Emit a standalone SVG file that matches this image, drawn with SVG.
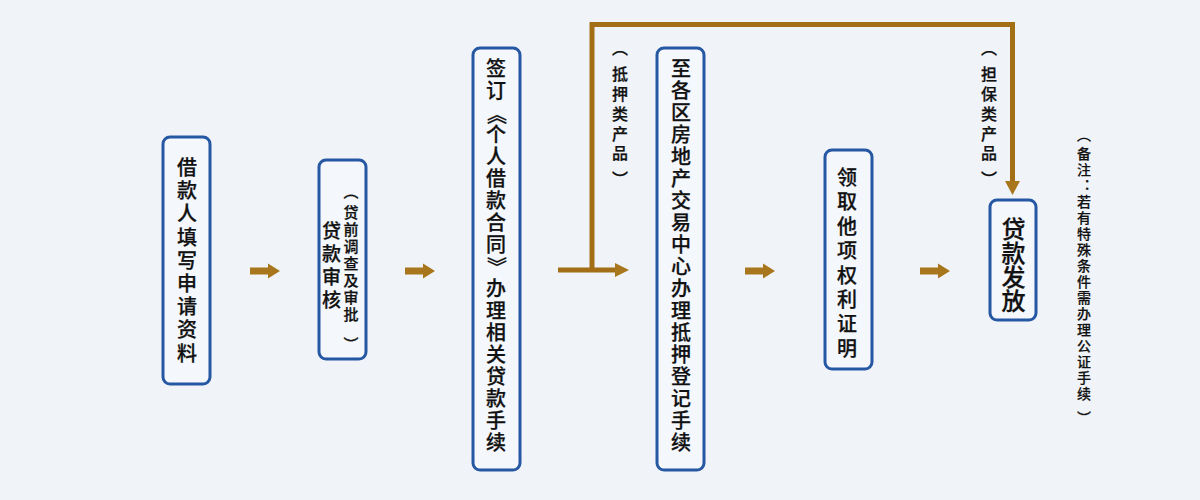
<svg xmlns="http://www.w3.org/2000/svg" width="1200" height="500" viewBox="0 0 1200 500">
  <style>
    .box { fill: #f4f7fb; stroke: #2657a3; stroke-width: 3; }
    .vt { font-family: "Noto Sans CJK SC", "Noto Sans", sans-serif; fill: #111; stroke: #111; stroke-width: 0.25; text-anchor: middle; dominant-baseline: central; font-weight: 500; }
    .main { font-size: 20px; }
    .small { font-size: 15px; }
    .lbl { font-size: 16px; }
    .note { font-size: 14px; stroke-width: 0.2; }
    .conn { fill: none; stroke: #a26e16; stroke-width: 5; }
    .arr { fill: #a8761c; }
  </style>
  <defs>
    <path id="fatArrow" d="M0,-3.5 L18,-3.5 L18,-7.5 L30,0 L18,7.5 L18,3.5 L0,3.5 Z"/>
  </defs>
  <rect width="1200" height="500" fill="#f0f4f8"/>

  <g id="connectors">
    <use href="#fatArrow" class="arr" x="250" y="271"/>
    <use href="#fatArrow" class="arr" x="405" y="271"/>
    <use href="#fatArrow" class="arr" x="745" y="271"/>
    <use href="#fatArrow" class="arr" x="920" y="271"/>
    <polyline class="conn" points="558,270 618,270"/>
    <path class="arr" d="M615,263 L629,270 L615,277 Z"/>
    <polyline class="conn" points="592,270 592,24.5 1012.5,24.5 1012.5,183"/>
    <path class="arr" d="M1005,181 L1012.5,195 L1020,181 Z"/>
  </g>

  <g id="node1">
    <rect class="box" x="163" y="137" width="47" height="247" rx="7"/>
    <text class="vt main" x="187 187 187 187 187 187 187 187 187" y="166.5 189.7 212.9 236.1 259.3 282.5 305.7 328.9 352.1">借款人填写申请资料</text>
  </g>
  <g id="node2">
    <rect class="box" x="319" y="160" width="47" height="199" rx="7"/>
    <text class="vt" style="font-size:19px" x="331.5 331.5 331.5 331.5" y="229.5 252.5 275.5 298.5">贷款审核</text>
    <text class="vt small" x="351 351 351 351 351 351 351 351 351" y="190.5 211.7 228.7 245.7 262.7 279.7 296.7 313.7 343">︵贷前调查及审批︶</text>
  </g>
  <g id="node3">
    <rect class="box" x="473" y="48" width="47" height="422" rx="7"/>
    <text class="vt main" x="496 496 497 496 496 496 496 496 496 497 496 496 496 496 496 496 496 496" y="67 89 113 133 155 177 199 221 243 266 287 309 331 353 375 397 419 441">签订︽个人借款合同︾办理相关贷款手续</text>
  </g>
  <g id="node4">
    <rect class="box" x="657" y="48" width="47" height="422" rx="7"/>
    <text class="vt main" x="681 681 681 681 681 681 681 681 681 681 681 681 681 681 681 681 681 681" y="67 89 111 133 155 177 199 221 243 265 287 309 331 353 375 397 419 441">至各区房地产交易中心办理抵押登记手续</text>
  </g>
  <g id="node5">
    <rect class="box" x="825" y="150" width="47" height="219" rx="7"/>
    <text class="vt main" x="847 847 847 847 847 847 847 847" y="176.5 200.9 225.3 249.7 274.1 298.5 322.9 347.3">领取他项权利证明</text>
  </g>
  <g id="node6">
    <rect class="box" x="990" y="200" width="46" height="120" rx="7"/>
    <text class="vt" style="font-size:24px" x="1013.5 1013.5 1013.5 1013.5" y="227.2 251.2 275.2 299.2">贷款发放</text>
  </g>

  <g id="labels">
    <text class="vt lbl" x="620 620 620 620 620 620 620" y="47 73.1 92.9 112.7 132.5 152.3 177.5">︵抵押类产品︶</text>
    <text class="vt lbl" x="989 989 989 989 989 989 989" y="47 73.1 92.9 112.7 132.5 152.3 177.5">︵担保类产品︶</text>
    <text class="vt note" x="1084 1084 1084 1084 1084 1084 1084 1084 1084 1084 1084 1084 1084 1084 1084 1084 1084 1084" y="134 152.7 168.7 184.7 200.7 216.7 232.7 248.7 264.7 280.7 296.7 312.7 328.7 344.7 360.7 376.7 392.7 417">︵备注︓若有特殊条件需办理公证手续︶</text>
  </g>
</svg>
